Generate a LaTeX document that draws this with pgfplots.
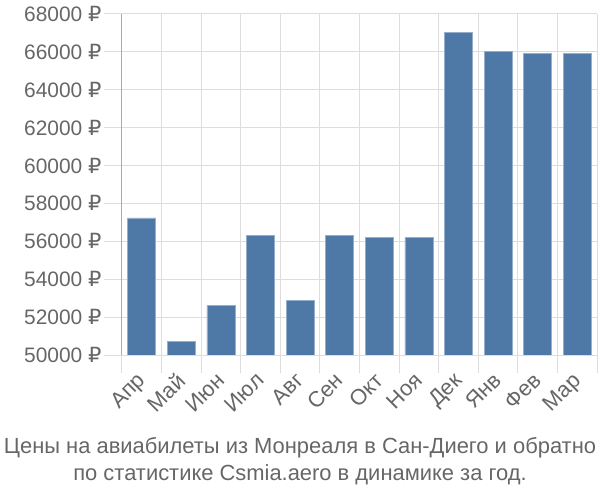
\documentclass[border=0pt]{standalone}
\usepackage{pgfplots}
\pgfplotsset{compat=1.18}
\usepackage{fontspec}
\setmainfont{Liberation Sans}
\newfontfamily\rub{DejaVu Sans}
\definecolor{barc}{HTML}{4E79A7}
\definecolor{gridc}{HTML}{DDDDDD}
\definecolor{axc}{HTML}{AAAAAA}
\definecolor{txt}{HTML}{666666}
\begin{document}
\begin{tikzpicture}
\path[use as bounding box] (-122bp,-145bp) rectangle (478bp,355bp);
\begin{axis}[
  at={(0,0)}, anchor=south west,
  scale only axis, width=475bp, height=341bp,
  xmin=-0.5, xmax=11.5, ymin=50000, ymax=68000,
  ytick={50000,52000,...,68000},
  scaled y ticks=false,
  xtick={0,...,11},
  xticklabels={Апр,Май,Июн,Июл,Авг,Сен,Окт,Ноя,Дек,Янв,Фев,Мар},
  minor xtick={-0.5,0.5,...,11.5},
  xminorgrids, ymajorgrids,
  grid style={gridc, line width=1bp},
  minor grid style={gridc, line width=1bp},
  tick align=outside, tick pos=left,
  major tick length=18bp, minor tick length=18bp,
  x tick style={draw=none},
  minor x tick style={draw=gridc, line width=1bp},
  y tick style={draw=gridc, line width=1bp},
  axis x line*=bottom, axis y line*=left,
  x axis line style={draw=gridc, line width=1bp, -},
  y axis line style={draw=axc, line width=1bp, -},
  /pgf/number format/.cd, 1000 sep={}, assume math mode=true,
  /pgfplots/.cd,
  yticklabel={\pgfmathprintnumber{\tick}~{\rub ₽}},
  y tick label style={font=\fontsize{21}{24}\selectfont, text=txt, xshift=1bp},
  x tick label style={font=\fontsize{22}{24}\selectfont, text=txt, inner sep=0pt, xshift=-6bp, yshift=2bp, rotate=45, anchor=north east},
  ybar, bar width=28bp,
]
\addplot[fill=barc, draw=barc!60!white, line width=0.6bp] coordinates {
(0,57240) (1,50720) (2,52600) (3,56320) (4,52880) (5,56320)
(6,56210) (7,56210) (8,67020) (9,66020) (10,65910) (11,65910)};
\end{axis}
\node[anchor=base, text=txt, font=\fontsize{22}{28}\selectfont] at (178bp,-98bp)
  {Цены на авиабилеты из Монреаля в Сан-Диего и обратно};
\node[anchor=base, text=txt, font=\fontsize{22}{28}\selectfont] at (178bp,-125bp)
  {по статистике Csmia.aero в динамике за год.};
\end{tikzpicture}
\end{document}
